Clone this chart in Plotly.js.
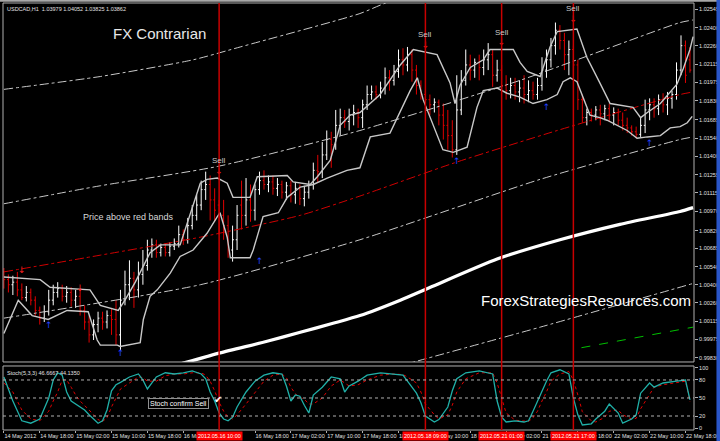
<!DOCTYPE html>
<html><head><meta charset="utf-8">
<script src="https://cdn.plot.ly/plotly-3.0.1.min.js"></script>
<style>html,body{margin:0;padding:0;background:#000;overflow:hidden}#chart{width:720px;height:441px}</style>
</head><body><div id="chart"></div>
<script>
// ---------- USDCAD H1 bars (index 0 = 14 May 2012 10:00) ----------
const openP = [1.0050,1.0044,1.0040,1.0042,1.0036,1.0030,1.0034,1.0028,1.0020,1.0014,
1.0019,1.0028,1.0034,1.0037,1.0031,1.0034,1.0028,1.0031,1.0020,1.0011,
1.0001,1.0009,1.0014,1.0011,1.0016,1.0013,1.0001,1.0028,1.0040,1.0045,
1.0036,1.0048,1.0055,1.0067,1.0071,1.0065,1.0069,1.0065,1.0070,1.0072,
1.0079,1.0075,1.0086,1.0094,1.0102,1.0114,1.0118,1.0106,1.0102,1.0094,
1.0086,1.0067,1.0075,1.0102,1.0094,1.0106,1.0098,1.0114,1.0121,1.0118,
1.0120,1.0115,1.0118,1.0112,1.0117,1.0110,1.0115,1.0107,1.0112,1.0118,
1.0129,1.0128,1.0141,1.0153,1.0149,1.0164,1.0170,1.0167,1.0172,1.0174,
1.0170,1.0180,1.0188,1.0190,1.0188,1.0193,1.0201,1.0199,1.0206,1.0215,
1.0211,1.0219,1.0207,1.0195,1.0188,1.0184,1.0180,1.0182,1.0172,1.0164,
1.0156,1.0145,1.0176,1.0199,1.0211,1.0207,1.0213,1.0209,1.0215,1.0219,
1.0203,1.0207,1.0195,1.0191,1.0195,1.0190,1.0193,1.0188,1.0191,1.0188,
1.0195,1.0207,1.0215,1.0226,1.0238,1.0230,1.0219,1.0223,1.0211,1.0184,
1.0170,1.0174,1.0172,1.0176,1.0173,1.0177,1.0172,1.0174,1.0168,1.0164,
1.0162,1.0159,1.0157,1.0164,1.0176,1.0180,1.0177,1.0184,1.0180,1.0185,
1.0188,1.0207,1.0226,1.0215];
const highP = [1.0053,1.0048,1.0047,1.0050,1.0041,1.0039,1.0037,1.0031,1.0023,1.0024,
1.0036,1.0040,1.0042,1.0040,1.0039,1.0038,1.0036,1.0036,1.0024,1.0016,
1.0013,1.0019,1.0019,1.0020,1.0022,1.0028,1.0036,1.0051,1.0059,1.0050,
1.0058,1.0067,1.0075,1.0076,1.0075,1.0072,1.0072,1.0073,1.0076,1.0086,
1.0083,1.0092,1.0102,1.0110,1.0121,1.0128,1.0125,1.0115,1.0106,1.0106,
1.0094,1.0086,1.0102,1.0121,1.0123,1.0118,1.0118,1.0128,1.0129,1.0125,
1.0125,1.0123,1.0121,1.0120,1.0121,1.0120,1.0118,1.0117,1.0121,1.0135,
1.0141,1.0151,1.0160,1.0159,1.0176,1.0177,1.0176,1.0177,1.0180,1.0177,
1.0184,1.0195,1.0195,1.0195,1.0198,1.0209,1.0207,1.0211,1.0223,1.0224,
1.0225,1.0223,1.0211,1.0199,1.0191,1.0188,1.0185,1.0184,1.0181,1.0176,
1.0168,1.0203,1.0207,1.0223,1.0219,1.0216,1.0219,1.0223,1.0228,1.0223,
1.0215,1.0211,1.0203,1.0201,1.0201,1.0199,1.0203,1.0199,1.0198,1.0201,
1.0217,1.0223,1.0232,1.0244,1.0242,1.0236,1.0230,1.0226,1.0215,1.0188,
1.0177,1.0177,1.0179,1.0180,1.0180,1.0181,1.0178,1.0177,1.0174,1.0170,
1.0164,1.0163,1.0170,1.0184,1.0185,1.0185,1.0188,1.0189,1.0190,1.0191,
1.0213,1.0234,1.0230,1.0225];
const lowP = [1.0037,1.0034,1.0032,1.0031,1.0028,1.0027,1.0024,1.0016,1.0009,1.0011,
1.0016,1.0024,1.0030,1.0027,1.0026,1.0023,1.0022,1.0016,1.0005,0.9995,
0.9997,1.0003,1.0005,1.0006,1.0001,0.9993,0.9989,1.0024,1.0028,1.0022,
1.0030,1.0040,1.0051,1.0061,1.0061,1.0062,1.0062,1.0062,1.0067,1.0069,
1.0071,1.0072,1.0083,1.0090,1.0098,1.0106,1.0090,1.0089,1.0079,1.0075,
1.0061,1.0058,1.0067,1.0083,1.0086,1.0089,1.0090,1.0110,1.0114,1.0112,
1.0110,1.0109,1.0107,1.0106,1.0104,1.0103,1.0102,1.0101,1.0107,1.0114,
1.0120,1.0123,1.0137,1.0131,1.0145,1.0156,1.0162,1.0160,1.0164,1.0162,
1.0162,1.0176,1.0184,1.0184,1.0185,1.0188,1.0191,1.0195,1.0201,1.0203,
1.0206,1.0198,1.0188,1.0184,1.0177,1.0172,1.0174,1.0164,1.0153,1.0145,
1.0139,1.0141,1.0172,1.0195,1.0199,1.0201,1.0199,1.0203,1.0207,1.0194,
1.0198,1.0188,1.0184,1.0185,1.0184,1.0182,1.0181,1.0182,1.0184,1.0184,
1.0191,1.0201,1.0209,1.0219,1.0223,1.0207,1.0203,1.0202,1.0176,1.0166,
1.0164,1.0167,1.0168,1.0164,1.0168,1.0167,1.0164,1.0164,1.0160,1.0158,
1.0156,1.0154,1.0155,1.0158,1.0168,1.0170,1.0172,1.0174,1.0172,1.0177,
1.0184,1.0203,1.0197,1.0205];
const closeP = [1.0044,1.0040,1.0042,1.0036,1.0030,1.0034,1.0028,1.0020,1.0014,1.0019,
1.0028,1.0034,1.0037,1.0031,1.0034,1.0028,1.0031,1.0020,1.0011,1.0001,
1.0009,1.0014,1.0011,1.0016,1.0013,1.0001,1.0028,1.0040,1.0045,1.0036,
1.0048,1.0055,1.0067,1.0071,1.0065,1.0069,1.0065,1.0070,1.0072,1.0079,
1.0075,1.0086,1.0094,1.0102,1.0114,1.0118,1.0106,1.0098,1.0094,1.0086,
1.0067,1.0075,1.0094,1.0094,1.0106,1.0098,1.0114,1.0121,1.0118,1.0120,
1.0115,1.0118,1.0112,1.0117,1.0110,1.0115,1.0107,1.0112,1.0118,1.0129,
1.0128,1.0141,1.0153,1.0149,1.0164,1.0170,1.0167,1.0172,1.0174,1.0170,
1.0180,1.0188,1.0190,1.0188,1.0193,1.0201,1.0199,1.0206,1.0215,1.0211,
1.0219,1.0207,1.0195,1.0188,1.0184,1.0180,1.0182,1.0172,1.0164,1.0156,
1.0145,1.0176,1.0199,1.0211,1.0207,1.0213,1.0209,1.0215,1.0219,1.0203,
1.0207,1.0195,1.0191,1.0195,1.0190,1.0193,1.0188,1.0191,1.0188,1.0195,
1.0207,1.0215,1.0226,1.0238,1.0230,1.0219,1.0223,1.0211,1.0184,1.0170,
1.0174,1.0172,1.0176,1.0173,1.0177,1.0172,1.0174,1.0168,1.0164,1.0162,
1.0159,1.0157,1.0164,1.0176,1.0180,1.0177,1.0184,1.0180,1.0185,1.0188,
1.0207,1.0226,1.0203,1.0207];

// ---------- price channel (white envelope) ----------
const upperIdx = [0,8.1,10.3,19.2,21.5,25.5,27.0,29.3,32.6,34.9,39.3,41.5,43.8,45.3,47.6,49.8,51.1,54.9,56.5,63.2,64.5,68.3,69.9,72.8,75.0,77.2,79.4,83.9,88.4,91.3,96.6,99.5,100.6,101.7,104.0,106.9,108.4,113.6,115.1,116.7,119.6,121.8,123.4,127.8,130.0,132.9,135.2,140.3,142.0,143.5,146.4,150.1,151.5,153.0,153.7];
const upperVal = [1.0046,1.0044,1.0038,1.0036,1.0024,1.0020,1.0028,1.0042,1.0065,1.0071,1.0071,1.0094,1.0119,1.0122,1.0123,1.0119,1.0108,1.0108,1.0124,1.0125,1.0120,1.0118,1.0124,1.0137,1.0164,1.0172,1.0174,1.0188,1.0211,1.0223,1.0219,1.0197,1.0181,1.0195,1.0209,1.0215,1.0223,1.0223,1.0213,1.0206,1.0202,1.0225,1.0237,1.0239,1.0217,1.0197,1.0181,1.0178,1.0170,1.0174,1.0181,1.0196,1.0208,1.0223,1.0233];
const lowerIdx = [0,3.2,6.3,9.9,14.1,18.8,20.8,21.5,25.3,25.9,30.4,31.1,32.6,34.2,37.1,39.3,42.2,45.3,47.6,48.2,49.8,50.5,54.9,55.6,57.8,61.2,63.2,66.1,69.0,72.1,76.5,79.4,81.7,86.1,90.6,92.2,93.5,97.9,100.2,103.3,105.5,106.9,110.0,112.2,115.1,118.0,121.1,123.4,124.7,126.3,127.8,129.2,130.7,132.9,134.5,139.0,141.2,143.5,146.4,148.6,150.8,152.4,153.5];
const lowerVal = [1.0002,1.0028,1.0016,1.0013,1.0020,1.0019,0.9997,0.9993,0.9993,0.9992,0.9995,1.0013,1.0031,1.0036,1.0049,1.0062,1.0067,1.0080,1.0093,1.0096,1.0077,1.0061,1.0061,1.0067,1.0093,1.0096,1.0108,1.0116,1.0118,1.0123,1.0129,1.0131,1.0155,1.0158,1.0191,1.0201,1.0184,1.0145,1.0143,1.0147,1.0178,1.0191,1.0193,1.0189,1.0186,1.0181,1.0184,1.0188,1.0198,1.0201,1.0198,1.0186,1.0172,1.0170,1.0168,1.0160,1.0154,1.0155,1.0156,1.0162,1.0163,1.0166,1.0171];

// ---------- regression channel (dash-dot) ----------
const chanTopIdx = [0,21.5,42.2,52.7,79.4,85,100];
const chanTopVal = [1.0192,1.0202,1.0215,1.0225,1.0251,1.0259,1.0275];
const chanUpIdx = [0,21.5,47.6,79.4,115.1,150.8,153.7];
const chanUpVal = [1.0103,1.0117,1.0132,1.0160,1.0199,1.0244,1.0246];
const chanMidIdx = [0,21.5,43.8,66.1,79.4,100.6,123.4,150.8,153.7];
const chanMidVal = [1.0050,1.0063,1.0077,1.0094,1.0109,1.0135,1.0160,1.0188,1.0190];
const chanLowIdx = [0,43.8,79.4,119.6,150.8,153.7];
const chanLowVal = [1.0014,1.0040,1.0075,1.0122,1.0153,1.0155];
const chanBotIdx = [88.4,119.6,153.7];
const chanBotVal = [0.9977,1.0007,1.0041];

// ---------- long moving average (thick white) and green line ----------
const maIdx = [35.0,40.0,48.2,58.7,66.1,73.4,79.4,88.4,95.1,110.0,124.0,137.4,150.8,153.7];
const maVal = [0.9974,0.9979,0.9987,0.9996,1.0003,1.0010,1.0016,1.0028,1.0038,1.0060,1.0075,1.0087,1.0097,1.0100];
const greenIdx = [128.8,153.7];
const greenVal = [0.9991,1.0007];

// ---------- signals ----------
const sellIdx = [48,94,111,127];
const sellPrice = [1.0128,1.0226,1.0228,1.0246];
const sellTimes = ["2012.05.16 10:00","2012.05.18 09:00","2012.05.21 01:00","2012.05.21 17:00"];
const downIdx = [4,17];
const downPrice = [1.0051,1.0037];
const upIdx = [10,26,57,101,121,144];
const upPrice = [1.0008,0.9986,1.0058,1.0136,1.0178,1.0150];

// ---------- stochastic (5,3,3) ----------
const stochIdx = [0,2,4,6,8,10,11,12,13,14,15,16,17,18,19,20,21,22,23,24,25,26,28,30,31,32,34,36,38,40,42,44,45,46,47,48,49,50,51,52,54,56,58,60,62,63,64,65,66,67,68,69,71,73,75,76,77,79,81,84,87,89,90,92,93,94,96,97,99,100,101,103,106,109,110,111,112,114,116,117,118,119,120,121,122,124,126,127,128,129,131,132,134,135,137,138,140,141,142,144,145,147,150,152,153];
const stochMain = [85,45,12,8,15,50,80,92,88,60,45,40,35,30,22,15,8,12,30,62,72,76,85,90,80,65,85,92,90,92,95,90,82,60,45,25,15,12,18,35,60,78,88,92,90,70,45,55,53,38,25,55,68,85,82,60,70,78,88,92,90,88,78,58,42,20,10,14,35,62,82,92,95,90,45,18,10,12,10,12,28,45,60,78,92,97,90,50,22,5,7,15,28,40,25,8,15,22,58,75,68,75,78,80,47];
const stochSignal = [75,60,30,15,12,28,45,60,80,80,68,55,45,38,30,22,14,11,17,35,50,65,75,85,84,78,78,87,90,90,92,92,88,78,62,43,28,18,15,22,40,60,78,88,90,84,68,57,51,48,40,40,50,70,80,75,70,72,80,88,90,89,85,75,60,40,22,15,22,38,60,82,92,92,75,50,25,13,11,11,17,28,45,60,78,90,94,80,55,27,12,10,18,28,30,22,15,16,32,55,68,72,76,78,44];
const stochLevels = [80,50,20];

// ---------- axis labels ----------
const priceTicks = [1.02545,1.02400,1.02260,1.02115,1.01975,1.01830,1.01685,1.01540,1.01400,1.01255,1.01115,1.00970,1.00820,1.00685,1.00540,1.00400,1.00260,1.00115,0.99975,0.99830];
const stochTicks = [0,20,50,80,100];
const timeTickIdx = [0,8,16,24,32,40,56,64,72,80,88,96,104,112,120,128,136,144,152];
const timeTickText = ["14 May 2012","14 May 18:00","15 May 02:00","15 May 10:00","15 May 18:00","16 May 02:00","16 May 18:00","17 May 02:00","17 May 10:00","17 May 18:00","18 May 02:00","18 May 10:00","18 May 18:00","21 May 02:00","21 May 10:00","21 May 18:00","22 May 02:00","22 May 10:00","22 May 18:00"];

const barIdx = openP.map((_, i) => i);
const SILVER = '#c8c8c8';
const F = 'Liberation Sans, Arial, sans-serif';

function dashLine(x, y, color, width, dash) {
  return {type:'scatter', mode:'lines', x, y, xaxis:'x', yaxis:'y', hoverinfo:'skip',
    line:{color, width, dash, shape:'spline', smoothing:0.6}};
}

const traces = [
  dashLine(chanTopIdx, chanTopVal, SILVER, 1, 'dashdot'),
  dashLine(chanUpIdx, chanUpVal, SILVER, 1, 'dashdot'),
  dashLine(chanMidIdx, chanMidVal, '#d00000', 1, 'dashdot'),
  dashLine(chanLowIdx, chanLowVal, SILVER, 1, 'dashdot'),
  dashLine(chanBotIdx, chanBotVal, SILVER, 1, 'dashdot'),
  dashLine(greenIdx, greenVal, '#00c000', 1, 'dash'),
  dashLine(maIdx, maVal, '#ffffff', 3.2, 'solid'),
  {type:'scatter', mode:'lines', x:upperIdx, y:upperVal, hoverinfo:'skip', line:{color:SILVER, width:1.4}},
  {type:'scatter', mode:'lines', x:lowerIdx, y:lowerVal, hoverinfo:'skip', line:{color:SILVER, width:1.4}},
  {type:'ohlc', x:barIdx, open:openP, high:highP, low:lowP, close:closeP, hoverinfo:'skip', tickwidth:0.3,
    increasing:{line:{color:'#ffffff', width:1}}, decreasing:{line:{color:'#e00000', width:1}}},
  {type:'scatter', mode:'text', x:sellIdx.concat(downIdx), y:sellPrice.concat(downPrice), text:sellIdx.concat(downIdx).map(()=>'↓'),
    hoverinfo:'skip', textfont:{family:'DejaVu Sans', size:9, color:'#ff2020'}},
  {type:'scatter', mode:'text', x:upIdx, y:upPrice, text:upIdx.map(()=>'↑'),
    hoverinfo:'skip', textfont:{family:'DejaVu Sans', size:9, color:'#2040ff'}},
  {type:'scatter', mode:'lines', x:stochIdx, y:stochSignal, yaxis:'y2', hoverinfo:'skip', line:{color:'#e00000', width:1, dash:'dot'}},
  {type:'scatter', mode:'lines', x:stochIdx, y:stochMain, yaxis:'y2', hoverinfo:'skip', line:{color:'#20b0a8', width:1.3}}
];

const MAIN_BOTTOM = 0.1593, STOCH_TOP = 0.1499;
const shapes = [
  {type:'rect', xref:'paper', yref:'paper', x0:0, x1:1, y0:MAIN_BOTTOM, y1:1, line:{color:'#b0b0b0', width:1}},
  {type:'rect', xref:'paper', yref:'paper', x0:0, x1:1, y0:0, y1:STOCH_TOP, line:{color:'#b0b0b0', width:1}},
  {type:'rect', xref:'paper', yref:'paper', x0:-0.01, x1:1.05, y0:1.003, y1:1.01, fillcolor:'#a8a8a8', line:{width:0}},
  {type:'rect', xref:'paper', yref:'paper', x0:1.0325, x1:1.05, y0:-0.05, y1:1.01, fillcolor:'#2a56c8', line:{width:0}}
];
sellIdx.forEach(i => shapes.push({type:'line', xref:'x', yref:'paper', x0:i, x1:i, y0:0, y1:1, line:{color:'#c80000', width:1.5}}));
stochLevels.forEach(v => shapes.push({type:'line', xref:'paper', yref:'y2', x0:0, x1:1, y0:v, y1:v, line:{color:'#b0b0b0', width:1, dash:'dot'}}));

function note(x, y, text, size, color, extra) {
  return Object.assign({xref:'paper', yref:'paper', x, y, xanchor:'center', yanchor:'middle', showarrow:false, text,
    font:{family:F, size, color}}, extra || {});
}
const annotations = [
  note(0.003, 0.998, 'USDCAD,H1  1.03979 1.04052 1.03825 1.03862', 5.5, '#e0e0e0', {xanchor:'left', yanchor:'top'}),
  note(0.2272, 0.9297, 'FX Contrarian', 15, '#e8e8e8'),
  note(0.1823, 0.4988, 'Price above red bands', 9, '#d8d8d8'),
  note(0.8437, 0.3044, 'ForexStrategiesResources.com', 15, '#ffffff'),
  note(0.003, STOCH_TOP - 0.004, 'Stoch(5,3,3) 46.6667 44.1350', 5.5, '#e0e0e0', {xanchor:'left', yanchor:'top'}),
  note(0.2533, 0.0609, 'Stoch confirm Sell', 7, '#ffffff', {bgcolor:'#000000', bordercolor:'#909090', borderwidth:1, borderpad:1}),
  note(0.311, 0.072, '✔', 10, '#ffffff')
];
annotations[annotations.length - 1].font.family = 'DejaVu Sans';
sellIdx.forEach((i, k) => {
  annotations.push({xref:'x', yref:'y', x:i, y:sellPrice[k], xanchor:'center', yanchor:'middle', yshift:11, showarrow:false, text:'Sell',
    font:{family:F, size:8, color:'#c8c8c8'}});
  annotations.push({xref:'x', yref:'paper', x:i, y:0, xanchor:'center', yanchor:'top', yshift:-1, showarrow:false, text:sellTimes[k],
    bgcolor:'#ff0000', borderpad:1, font:{family:F, size:5.5, color:'#ffffff'}});
});

const axisCommon = {showgrid:false, zeroline:false, showline:false, fixedrange:true};
const layout = {
  width:720, height:441, margin:{l:3, r:26, t:3, b:11},
  paper_bgcolor:'#000000', plot_bgcolor:'#000000', showlegend:false,
  font:{family:F, color:'#e0e0e0', size:6},
  xaxis:Object.assign({}, axisCommon, {domain:[0,1], range:[-0.2,153.9], anchor:'y2',
    tickmode:'array', tickvals:timeTickIdx, ticktext:timeTickText, ticks:'outside', ticklen:2, tickcolor:'#b0b0b0',
    tickangle:0, ticklabelposition:'outside right', tickfont:{family:F, size:5.5, color:'#e0e0e0'}, rangeslider:{visible:false}}),
  yaxis:Object.assign({}, axisCommon, {domain:[MAIN_BOTTOM,1], range:[0.99799,1.02592], side:'right', anchor:'x',
    tickmode:'array', tickvals:priceTicks, ticktext:priceTicks.map(v => v.toFixed(5)), ticks:'outside', ticklen:3, tickcolor:'#b0b0b0',
    tickfont:{family:F, size:5.5, color:'#e0e0e0'}}),
  yaxis2:Object.assign({}, axisCommon, {domain:[0,STOCH_TOP], range:[-3.3,103.3], side:'right', anchor:'x',
    tickmode:'array', tickvals:stochTicks, ticktext:stochTicks.map(String), ticks:'outside', ticklen:3, tickcolor:'#b0b0b0',
    tickfont:{family:F, size:5.5, color:'#e0e0e0'}}),
  shapes, annotations
};

Plotly.newPlot('chart', traces, layout, {staticPlot:true, displayModeBar:false});
</script>
</body></html>
